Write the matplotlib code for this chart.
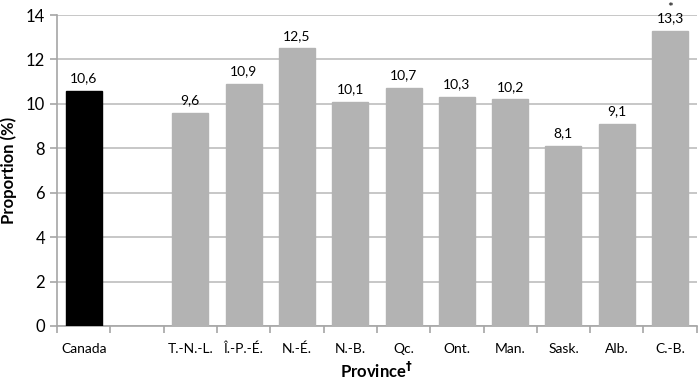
import matplotlib
matplotlib.use("Agg")
import matplotlib.pyplot as plt
import numpy as np

categories = ["Canada", "", "T.-N.-L.", "Î.-P.-É.", "N.-É.", "N.-B.", "Qc.", "Ont.", "Man.", "Sask.", "Alb.", "C.-B."]
values = [10.6, None, 9.6, 10.9, 12.5, 10.1, 10.7, 10.3, 10.2, 8.1, 9.1, 13.3]
labels = ["10,6", "", "9,6", "10,9", "12,5", "10,1", "10,7", "10,3", "10,2", "8,1", "9,1", "13,3"]
flags = ["", "", "", "", "", "", "", "", "", "", "", "*"]
colors = ["#000000", "none"] + ["#B3B3B3"] * 10

plt.rcParams['font.family'] = ['Lato', 'DejaVu Sans']

fig = plt.figure(figsize=(7, 3.82), dpi=100)
ax = fig.add_axes([0.0814, 0.1466, 0.914, 0.8141])

x = np.arange(len(categories))
for i, (v, c) in enumerate(zip(values, colors)):
    if v is None:
        continue
    ax.bar(x[i], v, width=0.675, color=c, edgecolor=c, zorder=3)
    txt = labels[i] if not flags[i] else flags[i] + "\n" + labels[i]
    ax.text(x[i], v + 0.3, txt, ha="center", va="bottom", fontsize=10,
            color="#000000", linespacing=0.75, multialignment="center")

ax.set_xlim(-0.5, len(categories) - 0.5)
ax.set_ylim(0, 14)
ax.set_yticks(np.arange(0, 15, 2))
ax.yaxis.grid(True, color="#BEBEBE", linewidth=1.2, zorder=0)
ax.set_axisbelow(True)

ax.set_xticks(x)
ax.set_xticklabels(categories, fontsize=10)
ax.tick_params(axis="x", which="major", length=0, pad=12)
ax.set_xticks(np.arange(-0.5, len(categories), 1), minor=True)
ax.tick_params(axis="x", which="minor", length=5, color="#A6A6A6", width=1.2)
ax.tick_params(axis="y", length=5, color="#A6A6A6", width=1.2, labelsize=12)

for s in ["top", "right"]:
    ax.spines[s].set_visible(False)
for s in ["left", "bottom"]:
    ax.spines[s].set_color("#A6A6A6")
    ax.spines[s].set_linewidth(1.2)

ax.set_ylabel("Proportion (%)", fontsize=12, fontweight="bold")
ax.yaxis.set_label_coords(-0.0625, 0.5)
ax.set_xlabel("Province$^{\\mathbf{†}}$", fontsize=12, fontweight="bold", labelpad=4)

fig.savefig("out.png", dpi=100)
